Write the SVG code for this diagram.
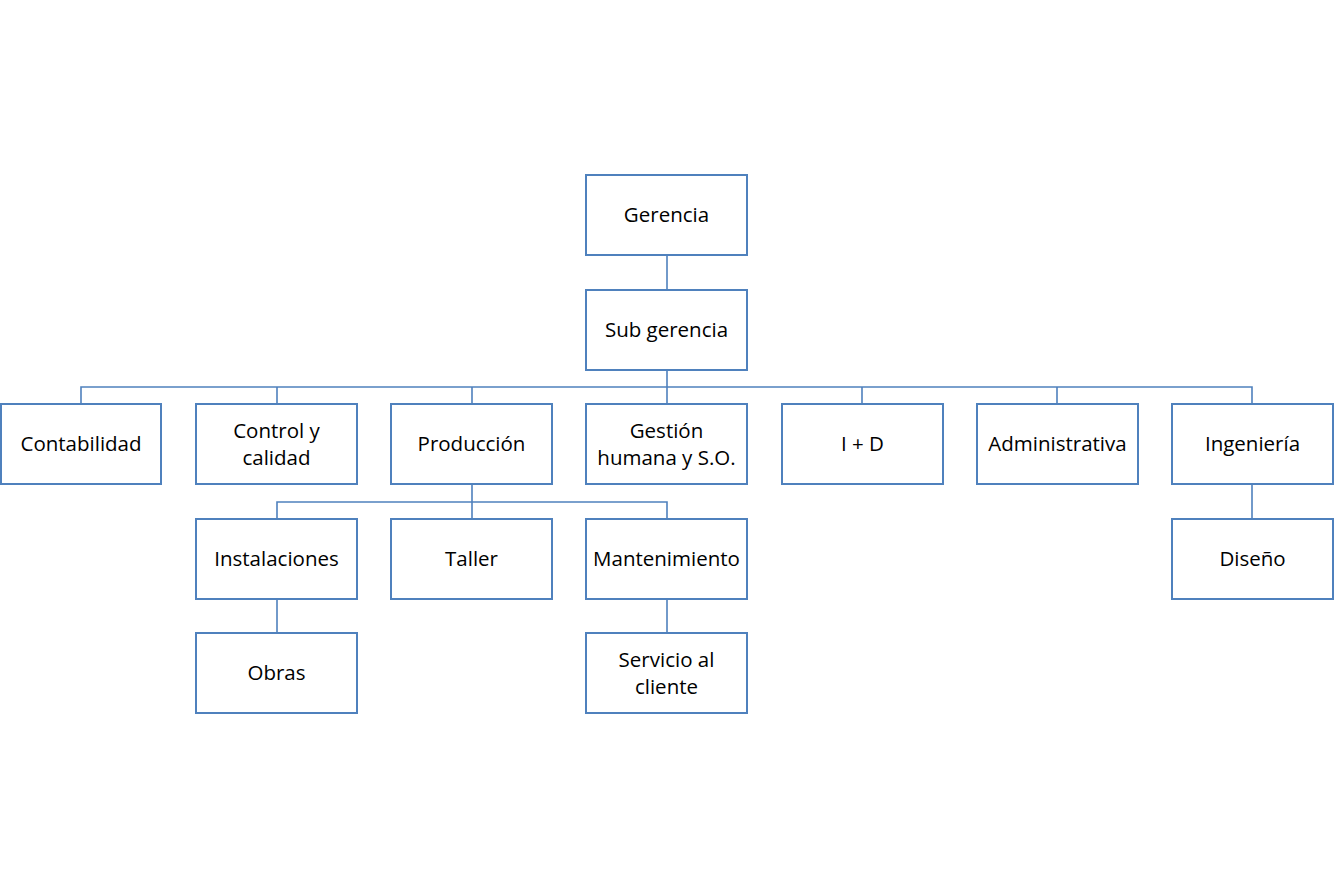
<svg xmlns="http://www.w3.org/2000/svg" width="1334" height="889" viewBox="0 0 1334 889">
<style>
.box{fill:#fff;stroke:#4F81BD;stroke-width:2}
.ln{fill:none;stroke:#4F81BD;stroke-width:1.6}
text{font-family:"Open Sans","Liberation Sans",sans-serif;font-size:20.5px;fill:#000;text-anchor:middle;dominant-baseline:central}
</style>
<rect width="1334" height="889" fill="#fff"/>
<g id="connectors">
<path class="ln" d="M667 255V290"/>
<path class="ln" d="M667 370V387M81 404V387H1252V404M277 387V404M472 387V404M862 387V404M1057 387V404M667 387V404"/>
<path class="ln" d="M472 484V502M277 519V502H667V519M472 502V519"/>
<path class="ln" d="M277 599V633"/>
<path class="ln" d="M667 599V633"/>
<path class="ln" d="M1252 484V519"/>
</g>
<g id="n-gerencia"><rect class="box" x="586" y="175" width="161" height="80"/><text x="666.5" y="214">Gerencia</text></g>
<g id="n-subgerencia"><rect class="box" x="586" y="290" width="161" height="80"/><text x="666.5" y="329">Sub gerencia</text></g>
<g id="n-contabilidad"><rect class="box" x="1" y="404" width="160" height="80"/><text x="81" y="443">Contabilidad</text></g>
<g id="n-control"><rect class="box" x="196" y="404" width="161" height="80"/><text x="276.5" y="430">Control y</text><text x="276.5" y="457">calidad</text></g>
<g id="n-produccion"><rect class="box" x="391" y="404" width="161" height="80"/><text x="471.5" y="443">Producción</text></g>
<g id="n-gestion"><rect class="box" x="586" y="404" width="161" height="80"/><text x="666.5" y="430">Gestión</text><text x="666.5" y="457">humana y S.O.</text></g>
<g id="n-id"><rect class="box" x="782" y="404" width="161" height="80"/><text x="862.5" y="443">I + D</text></g>
<g id="n-administrativa"><rect class="box" x="977" y="404" width="161" height="80"/><text x="1057.5" y="443">Administrativa</text></g>
<g id="n-ingenieria"><rect class="box" x="1172" y="404" width="161" height="80"/><text x="1252.5" y="443">Ingeniería</text></g>
<g id="n-instalaciones"><rect class="box" x="196" y="519" width="161" height="80"/><text x="276.5" y="558">Instalaciones</text></g>
<g id="n-taller"><rect class="box" x="391" y="519" width="161" height="80"/><text x="471.5" y="558">Taller</text></g>
<g id="n-mantenimiento"><rect class="box" x="586" y="519" width="161" height="80"/><text x="666.5" y="558">Mantenimiento</text></g>
<g id="n-diseno"><rect class="box" x="1172" y="519" width="161" height="80"/><text x="1252.5" y="558">Diseño</text></g>
<g id="n-obras"><rect class="box" x="196" y="633" width="161" height="80"/><text x="276.5" y="672">Obras</text></g>
<g id="n-servicio"><rect class="box" x="586" y="633" width="161" height="80"/><text x="666.5" y="659">Servicio al</text><text x="666.5" y="686">cliente</text></g>
</svg>
